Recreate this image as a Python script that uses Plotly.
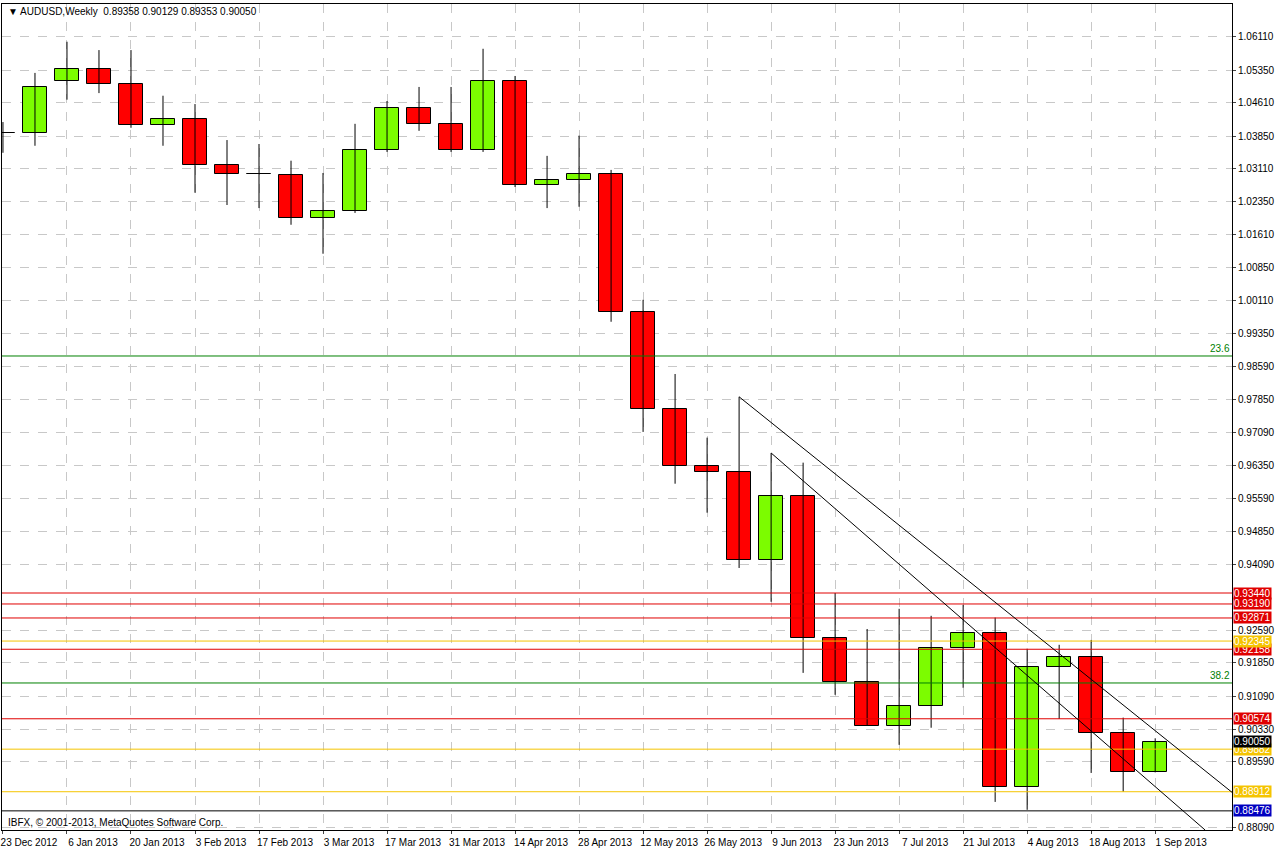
import plotly.graph_objects as go

dates = ["23 Dec 2012","30 Dec 2012","6 Jan 2013","13 Jan 2013","20 Jan 2013","27 Jan 2013","3 Feb 2013","10 Feb 2013",
         "17 Feb 2013","24 Feb 2013","3 Mar 2013","10 Mar 2013","17 Mar 2013","24 Mar 2013","31 Mar 2013","7 Apr 2013",
         "14 Apr 2013","21 Apr 2013","28 Apr 2013","5 May 2013","12 May 2013","19 May 2013","26 May 2013","2 Jun 2013",
         "9 Jun 2013","16 Jun 2013","23 Jun 2013","30 Jun 2013","7 Jul 2013","14 Jul 2013","21 Jul 2013","28 Jul 2013",
         "4 Aug 2013","11 Aug 2013","18 Aug 2013","25 Aug 2013","1 Sep 2013"]
opens  = [1.0392,1.0392,1.0511,1.0538,1.0504,1.0411,1.0424,1.0319,1.0299,1.0297,1.0199,1.0215,1.0354,1.0449,1.0413,1.0354,
          1.0511,1.0274,1.0285,1.0299,0.9985,0.9764,0.9634,0.9620,0.9420,0.9565,0.9242,0.9142,0.9042,0.9087,0.9219,0.9253,
          0.8903,0.9176,0.9199,0.9026,0.89358]
highs  = [1.0417,1.0529,1.0600,1.0581,1.0581,1.0477,1.0458,1.0376,1.0367,1.0329,1.0301,1.0413,1.0465,1.0497,1.0497,1.0584,
          1.0522,1.0340,1.0386,1.0308,1.0012,0.9843,0.9698,0.9791,0.9663,0.9641,0.9344,0.9262,0.9308,0.9292,0.9317,0.9288,
          0.9217,0.9226,0.9237,0.9060,0.90129]
lows   = [1.0347,1.0363,1.0468,1.0483,1.0404,1.0363,1.0256,1.0228,1.0221,1.0183,1.0117,1.0210,1.0349,1.0397,1.0349,1.0349,
          1.0269,1.0221,1.0224,0.9962,0.9711,0.9593,0.9527,0.9401,0.9324,0.9162,0.9112,0.9042,0.8998,0.9037,0.9128,0.8868,
          0.8850,0.9057,0.8934,0.8891,0.89353]
closes = [1.0392,1.0497,1.0538,1.0504,1.0411,1.0424,1.0319,1.0299,1.0299,1.0199,1.0215,1.0354,1.0449,1.0413,1.0354,1.0511,
          1.0274,1.0285,1.0299,0.9985,0.9764,0.9634,0.9620,0.9420,0.9565,0.9242,0.9142,0.9042,0.9087,0.9219,0.9253,0.8903,
          0.9176,0.9199,0.9026,0.8937,0.90050]

ytick_vals = [1.06110,1.05350,1.04610,1.03850,1.03110,1.02350,1.01610,1.00850,1.00110,0.99350,0.98590,0.97850,0.97090,
              0.96350,0.95590,0.94850,0.94090,0.92590,0.91850,0.91090,0.90330,0.89590,0.88090]
xtick_idx = list(range(0, 37, 2))
xtick_text = [dates[i] for i in xtick_idx]

red_levels = [0.93440, 0.93190, 0.92871, 0.92158, 0.90574]
yellow_levels = [0.92345, 0.89882, 0.88912]
black_level = 0.88476
fib_levels = [(0.9884, "23.6"), (0.9139, "38.2")]
current = 0.90050
trend1 = [(23, 0.9791), (38.5, 0.8884)]
trend2 = [(24, 0.9663), (37.56, 0.8804)]

FONT = "Liberation Sans"

fig = go.Figure()
idx = list(range(len(dates)))
wx, wy = [], []
for i in idx:
    wx += [i, i, None]
    wy += [lows[i], highs[i], None]
fig.add_trace(go.Scatter(x=wx, y=wy, mode="lines", line=dict(color="black", width=1), hoverinfo="skip"))
base = [min(o, c) for o, c in zip(opens, closes)]
height = [max(abs(c - o), 0.00001) for o, c in zip(opens, closes)]
colors = ["#7CFC00" if c > o else ("#FF0000" if c < o else "black") for o, c in zip(opens, closes)]
fig.add_trace(go.Bar(x=idx, y=height, base=base, width=0.74, marker=dict(color=colors, line=dict(color="black", width=1))))

shapes = []
for lv in red_levels:
    shapes.append(dict(type="line", xref="paper", x0=0, x1=1, y0=lv, y1=lv, line=dict(color="#E00000", width=1)))
for lv in yellow_levels:
    shapes.append(dict(type="line", xref="paper", x0=0, x1=1, y0=lv, y1=lv, line=dict(color="#F5C400", width=1)))
shapes.append(dict(type="line", xref="paper", x0=0, x1=1, y0=black_level, y1=black_level, line=dict(color="black", width=1)))
for lv, _ in fib_levels:
    shapes.append(dict(type="line", xref="paper", x0=0, x1=1, y0=lv, y1=lv, line=dict(color="#008000", width=1)))
for t in (trend1, trend2):
    shapes.append(dict(type="line", x0=t[0][0], y0=t[0][1], x1=t[1][0], y1=t[1][1], line=dict(color="black", width=1)))
fig.update_layout(shapes=shapes)

ann = []
def lab(v, bg, fg="white"):
    ann.append(dict(xref="paper", x=1.0, y=v, xanchor="left", yanchor="middle", text=f"{v:.5f}", showarrow=False,
                    bgcolor=bg, font=dict(color=fg, size=10, family=FONT), xshift=1, borderpad=0))
for lv in red_levels:
    lab(lv, "#E00000")
for lv in yellow_levels:
    lab(lv, "#F5C400")
lab(current, "black")
lab(black_level, "#0000C0")
for lv, t in fib_levels:
    ann.append(dict(xref="paper", x=1.0, y=lv, xanchor="right", yanchor="bottom", text=t, showarrow=False,
                    font=dict(color="#008000", size=10, family=FONT)))
ann.append(dict(xref="paper", yref="paper", x=0.003, y=1.0, xanchor="left", yanchor="top", showarrow=False,
                text="▼ AUDUSD,Weekly  0.89358 0.90129 0.89353 0.90050", font=dict(size=10, color="black", family=FONT)))
ann.append(dict(xref="paper", yref="paper", x=0.003, y=0.0, xanchor="left", yanchor="bottom", showarrow=False,
                text="IBFX, © 2001-2013, MetaQuotes Software Corp.", font=dict(size=10, color="black", family=FONT)))

fig.update_layout(
    annotations=ann, width=1276, height=849, showlegend=False,
    margin=dict(l=2, r=44, t=4, b=19), paper_bgcolor="white", plot_bgcolor="white",
    font=dict(family=FONT, size=10, color="black"), bargap=0,
    xaxis=dict(range=[-0.03, 38.4], tickvals=xtick_idx, ticktext=xtick_text, ticklabelshift=26, tickangle=0,
               automargin=False, ticks="outside", ticklen=3, showgrid=True, gridcolor="#C8C8C8", griddash="dash",
               showline=True, linecolor="black", mirror=True, zeroline=False, tickfont=dict(size=10)),
    yaxis=dict(range=[0.8804, 1.0686], side="right", tickvals=ytick_vals, ticktext=[f"{v:.5f}" for v in ytick_vals],
               automargin=False, ticks="outside", ticklen=3, showgrid=True, gridcolor="#C8C8C8", griddash="dash",
               showline=True, linecolor="black", mirror=True, zeroline=False, tickfont=dict(size=10)),
)
fig.write_html("out.html", post_script="document.body.style.margin='0';", config={"displayModeBar": False})
